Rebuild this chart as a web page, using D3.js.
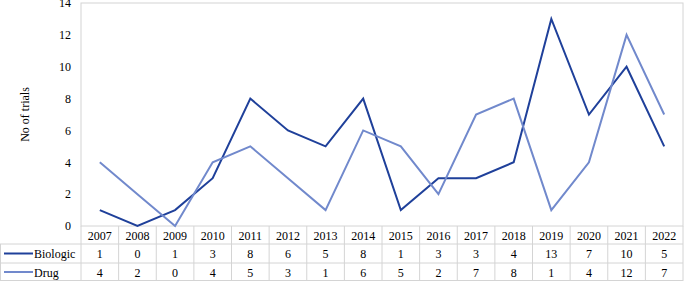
<!DOCTYPE html>
<html><head><meta charset="utf-8">
<script src="https://cdn.jsdelivr.net/npm/d3@7"></script>
<style>body{margin:0;background:#fff}svg{display:block}
svg text{font-family:"Liberation Serif","DejaVu Serif",serif !important;}</style>
</head><body>
<script>
const years = ["2007","2008","2009","2010","2011","2012","2013","2014","2015","2016","2017","2018","2019","2020","2021","2022"];
const biologic = [1,0,1,3,8,6,5,8,1,3,3,4,13,7,10,5];
const drug = [4,2,0,4,5,3,1,6,5,2,7,8,1,4,12,7];
const yTicks = [0,2,4,6,8,10,12,14];
const seriesNames = ["Biologic","Drug"];
const colors = ["#1f409a","#7189cc"];

const W=685,H=282;
const L=81,R=683,T=3,B=226;
const rowY=[226,244,263,281];
const grid="#d4d4d4";

const svg=d3.select("body").append("svg").attr("width",W).attr("height",H);
const x=d3.scaleBand().domain(years).range([L,R]);
const y=d3.scaleLinear().domain([0,14]).range([B,T]);

svg.append("rect").attr("x",L).attr("y",T).attr("width",R-L).attr("height",B-T)
  .attr("fill","none").attr("stroke",grid);

const yAxis=d3.axisLeft(y).tickValues(yTicks).tickSize(0).tickPadding(10);
const ga=svg.append("g").attr("transform",`translate(${L},0)`).call(yAxis);
ga.select(".domain").remove();
ga.selectAll("text").attr("font-size",12).attr("fill","#000");

svg.append("text").attr("transform",`translate(29,${(T+B)/2}) rotate(-90)`)
  .attr("text-anchor","middle").attr("font-size",12).text("No of trials");

const tg=svg.append("g").attr("stroke",grid).attr("fill","none");
tg.append("line").attr("x1",0).attr("x2",R).attr("y1",rowY[1]).attr("y2",rowY[1]);
tg.append("line").attr("x1",0).attr("x2",R).attr("y1",rowY[2]).attr("y2",rowY[2]);
tg.append("line").attr("x1",0).attr("x2",R).attr("y1",rowY[3]-0.5).attr("y2",rowY[3]-0.5);
tg.append("line").attr("x1",0.5).attr("x2",0.5).attr("y1",rowY[1]).attr("y2",rowY[3]);
years.forEach(d=>{
  tg.append("line").attr("x1",x(d)).attr("x2",x(d)).attr("y1",rowY[0]).attr("y2",rowY[3]);
});
tg.append("line").attr("x1",R).attr("x2",R).attr("y1",rowY[0]).attr("y2",rowY[3]);

const tt=svg.append("g").attr("font-size",12).attr("text-anchor","middle");
years.forEach((d,i)=>{
  const cx=x(d)+x.bandwidth()/2;
  tt.append("text").attr("x",cx).attr("y",(rowY[0]+rowY[1])/2+4.5).text(d);
  tt.append("text").attr("x",cx).attr("y",(rowY[1]+rowY[2])/2+4.5).text(biologic[i]);
  tt.append("text").attr("x",cx).attr("y",(rowY[2]+rowY[3])/2+4.5).text(drug[i]);
});
seriesNames.forEach((n,i)=>{
  const cy=(rowY[i+1]+rowY[i+2])/2;
  svg.append("line").attr("x1",4).attr("x2",33).attr("y1",cy).attr("y2",cy)
    .attr("stroke",colors[i]).attr("stroke-width",2);
  svg.append("text").attr("x",34).attr("y",cy+4.5).attr("font-size",12).text(n);
});

const line=d3.line().x((d,i)=>x(years[i])+x.bandwidth()/2).y(d=>y(d));
[biologic,drug].forEach((s,i)=>{
  svg.append("path").datum(s).attr("d",line).attr("fill","none")
    .attr("stroke",colors[i]).attr("stroke-width",2).attr("stroke-linejoin","miter");
});
</script>
</body></html>
